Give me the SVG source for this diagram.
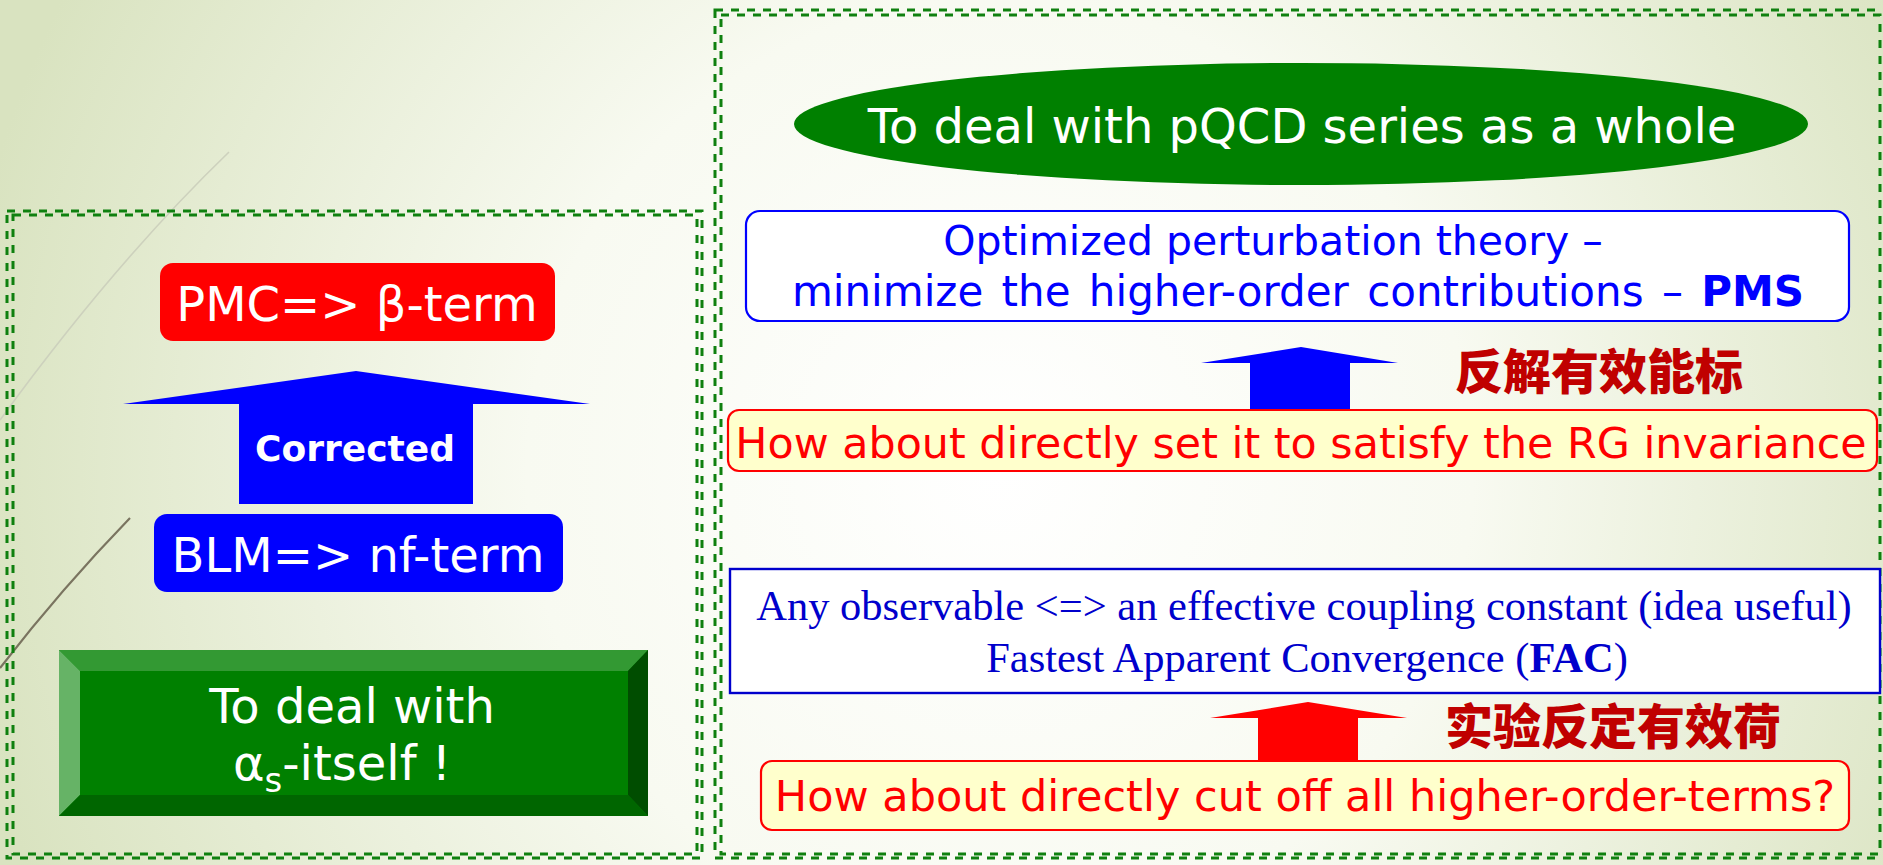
<svg xmlns="http://www.w3.org/2000/svg" width="1883" height="865" viewBox="0 0 1883 865">
  <defs>
    <radialGradient id="bg" gradientUnits="userSpaceOnUse" cx="1000" cy="470" r="1050">
      <stop offset="0" stop-color="#ffffff"/>
      <stop offset="0.45" stop-color="#f8faf1"/>
      <stop offset="1" stop-color="#d9e3c0"/>
    </radialGradient>
    <style>
      .dash { fill: none; stroke: #0f800f; stroke-width: 3; stroke-dasharray: 8 8; }
      .sans { font-family: "DejaVu Sans", Verdana, sans-serif; }
      .serif { font-family: "Liberation Serif", "Times New Roman", serif; }
      .cjk { font-family: "Noto Sans CJK SC", sans-serif; font-weight: 900; fill: #c00000; font-size: 48px; }
      .white { fill: #ffffff; }
      .mid { text-anchor: middle; }
      .yellowbox { fill: #ffffcc; stroke: #ff0000; stroke-width: 2.2; }
      .redtxt { fill: #ff0000; }
      .bluetxt { fill: #0000ff; }
    </style>
  </defs>

  <!-- background -->
  <rect x="0" y="0" width="1883" height="865" fill="url(#bg)"/>
  <path d="M229,152 Q115,262 0,420" fill="none" stroke="#cdd1bd" stroke-width="1.6"/>
  <path d="M130,518 Q62,588 0,668" fill="none" stroke="#7a7460" stroke-width="2.2"/>

  <!-- dashed frames -->
  <g id="frames">
    <rect class="dash" x="7" y="211" width="695" height="647"/>
    <rect class="dash" x="13" y="215" width="684" height="639"/>
    <rect class="dash" x="715" y="10" width="1172" height="848"/>
    <rect class="dash" x="721" y="15" width="1159" height="839"/>
  </g>

  <!-- connectors (block arrows) -->
  <g id="connectors">
    <polygon points="356,371 590,404 473,404 473,504 239,504 239,404 123,404" fill="#0000ff"/>
    <text class="sans white mid" x="355" y="461" font-size="36" font-weight="bold">Corrected</text>
    <polygon points="1301,347 1398,363 1350,363 1350,411 1250,411 1250,363 1201,363" fill="#0000ff"/>
    <polygon points="1308,702 1407,718 1358,718 1358,764 1258,764 1258,718 1210,718" fill="#ff0000"/>
  </g>

  <!-- left column nodes -->
  <g id="pmc">
    <rect x="160" y="263" width="395" height="78" rx="13" fill="#ff0000"/>
    <text class="sans white mid" x="357" y="321" font-size="48">PMC=&gt; β-term</text>
  </g>
  <g id="blm">
    <rect x="154" y="514" width="409" height="78" rx="13" fill="#0000ff"/>
    <text class="sans white mid" x="358" y="572" font-size="48">BLM=&gt; nf-term</text>
  </g>
  <g id="alphas">
    <rect x="59" y="650" width="589" height="166" fill="#008000"/>
    <polygon points="59,650 648,650 628,671 80,671" fill="#339933"/>
    <polygon points="59,650 80,671 80,795 59,816" fill="#66b366"/>
    <polygon points="648,650 648,816 628,795 628,671" fill="#004d00"/>
    <polygon points="59,816 80,795 628,795 648,816" fill="#006600"/>
    <text class="sans white mid" x="352" y="723" font-size="48">To deal with</text>
    <text class="sans white mid" x="342" y="780" font-size="48">α<tspan font-size="34" dy="12">s</tspan><tspan dy="-12">-itself !</tspan></text>
  </g>

  <!-- right column nodes -->
  <g id="whole">
    <ellipse cx="1301" cy="124" rx="507" ry="61" fill="#008000"/>
    <text class="sans white mid" x="1302" y="143" font-size="48">To deal with pQCD series as a whole</text>
  </g>
  <g id="pms">
    <rect x="746" y="211" width="1103" height="110" rx="14" fill="#ffffff" stroke="#0000ff" stroke-width="2.2"/>
    <text class="sans bluetxt mid" x="1273" y="255" font-size="41">Optimized perturbation theory –</text>
    <text class="sans bluetxt mid" x="1298" y="306" font-size="42" word-spacing="5">minimize the higher-order contributions – <tspan font-weight="bold">PMS</tspan></text>
  </g>
  <g id="label-scale">
    <text class="cjk" x="1455" y="389">反解有效能标</text>
  </g>
  <g id="rg">
    <rect class="yellowbox" x="728" y="410" width="1149" height="61" rx="11"/>
    <text class="sans redtxt mid" x="1301" y="458" font-size="42.8">How about directly set it to satisfy the RG invariance</text>
  </g>
  <g id="fac">
    <rect x="730" y="569" width="1150" height="124" fill="#ffffff" stroke="#0000cc" stroke-width="2.4"/>
    <text class="serif mid" x="1304" y="620" font-size="42.5" fill="#0000cc">Any observable &lt;=&gt; an effective coupling constant (idea useful)</text>
    <text class="serif mid" x="1307" y="672" font-size="42.5" fill="#0000cc">Fastest Apparent Convergence (<tspan font-weight="bold">FAC</tspan>)</text>
  </g>
  <g id="label-charge">
    <text class="cjk" x="1445" y="744">实验反定有效荷</text>
  </g>
  <g id="cutoff">
    <rect class="yellowbox" x="761" y="761" width="1088" height="69" rx="11"/>
    <text class="sans redtxt mid" x="1305" y="811" font-size="43">How about directly cut off all higher-order-terms?</text>
  </g>
</svg>
